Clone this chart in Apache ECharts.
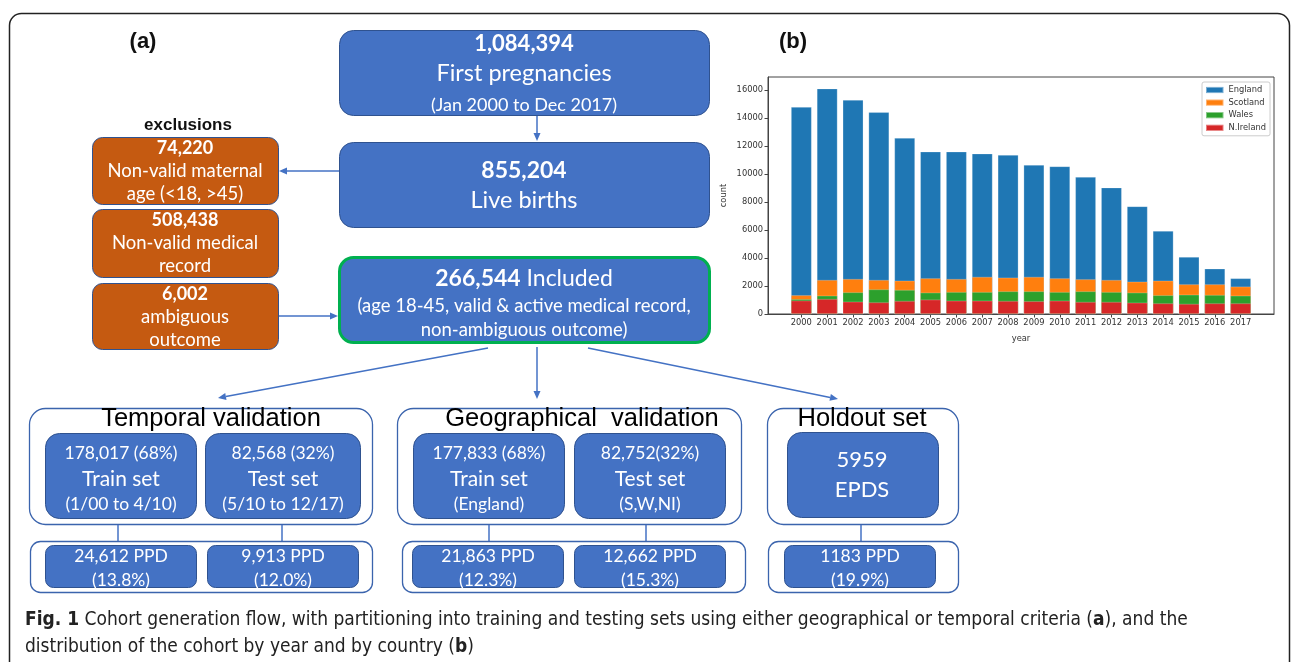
<!DOCTYPE html>
<html>
<head>
<meta charset="utf-8">
<script src="https://cdn.jsdelivr.net/npm/echarts@6/dist/echarts.min.js"></script>
<style>
  html, body { margin: 0; padding: 0; background: #fff; }
  #main { width: 1292px; height: 662px; }
</style>
</head>
<body>
<div id="main"></div>
<script>
// 柱状图数据 (b)
var years = [2000, 2001, 2002, 2003, 2004, 2005, 2006, 2007, 2008, 2009, 2010, 2011, 2012, 2013, 2014, 2015, 2016, 2017];
var england = [13460, 13690, 12810, 12000, 10210, 9060, 9110, 8820, 8770, 8010, 8010, 7320, 6610, 5390, 3560, 1960, 1120, 590];
var scotland = [280, 1120, 950, 670, 660, 1020, 930, 1080, 980, 1030, 980, 860, 860, 780, 1040, 740, 760, 650];
var wales = [100, 240, 670, 930, 790, 500, 620, 620, 690, 710, 620, 760, 710, 720, 580, 660, 600, 550];
var nIreland = [960, 1070, 880, 830, 930, 1030, 950, 950, 930, 910, 950, 860, 860, 810, 760, 720, 760, 760];
var countries = ['England', 'Scotland', 'Wales', 'N.Ireland'];
var yTicks = [0, 2000, 4000, 6000, 8000, 10000, 12000, 14000, 16000];

// 流程图文字 (a)
var topBox = ['1,084,394', 'First pregnancies', '(Jan 2000 to Dec 2017)'];
var liveBox = ['855,204', 'Live births'];
var includedBox = ['266,544', 'Included', '(age 18-45, valid & active medical record,', 'non-ambiguous outcome)'];
var exclusions = [
  ['74,220', 'Non-valid maternal', 'age (<18, >45)'],
  ['508,438', 'Non-valid medical', 'record'],
  ['6,002', 'ambiguous', 'outcome']
];
var groups = ['Temporal validation', 'Geographical  validation', 'Holdout set'];
var setBoxes = [
  ['178,017 (68%)', 'Train set', '(1/00 to 4/10)'],
  ['82,568 (32%)', 'Test set', '(5/10 to 12/17)'],
  ['177,833 (68%)', 'Train set', '(England)'],
  ['82,752(32%)', 'Test set', '(S,W,NI)']
];
var holdoutBox = ['5959', 'EPDS'];
var ppdBoxes = [
  ['24,612 PPD', '(13.8%)'],
  ['9,913 PPD', '(12.0%)'],
  ['21,863 PPD', '(12.3%)'],
  ['12,662 PPD', '(15.3%)'],
  ['1183 PPD', '(19.9%)']
];

var BLUE = '#4472C4';
var DARK = '#2F528F';
var ORANGE = '#C55A11';
var BOXFONT = 'Lato, "Open Sans", sans-serif';
var ARIAL = '"Liberation Sans", Arial, sans-serif';

var g = [];
function box(x, y, w, h, fill, stroke, lw, r) {
  g.push({ type: 'rect', shape: { x: x, y: y, width: w, height: h, r: r }, style: { fill: fill, stroke: stroke, lineWidth: lw } });
}
function txt(x, y, s, size, opt) {
  opt = opt || {};
  g.push({
    type: 'text', x: x, y: y,
    style: {
      text: s, fill: opt.color || '#fff', fontSize: size, fontFamily: opt.family || BOXFONT,
      fontWeight: opt.bold ? 'bold' : 'normal', align: opt.align || 'center', verticalAlign: 'middle',
      rich: opt.rich
    }
  });
}
function line(x1, y1, x2, y2, color, lw) {
  g.push({ type: 'line', shape: { x1: x1, y1: y1, x2: x2, y2: y2 }, style: { stroke: color || BLUE, lineWidth: lw || 1.5 } });
}
function arrow(x1, y1, x2, y2) {
  var dx = x2 - x1, dy = y2 - y1, len = Math.sqrt(dx * dx + dy * dy);
  var ux = dx / len, uy = dy / len;
  var bx = x2 - ux * 8, by = y2 - uy * 8;
  line(x1, y1, bx, by, BLUE, 1.5);
  g.push({ type: 'polygon', shape: { points: [[x2, y2], [bx - uy * 3.5, by + ux * 3.5], [bx + uy * 3.5, by - ux * 3.5]] }, style: { fill: BLUE } });
}

// 外框
g.push({ type: 'rect', shape: { x: 9.5, y: 13.5, width: 1280, height: 720, r: 12 }, style: { fill: 'none', stroke: '#222', lineWidth: 1.5 } });
txt(143, 42, '(a)', 22, { color: '#111', bold: true, family: ARIAL });
txt(793, 42, '(b)', 22, { color: '#111', bold: true, family: ARIAL });

// 主流程
box(339.5, 30.5, 370, 85, BLUE, DARK, 1, 14);
txt(524, 44, topBox[0], 22, { bold: true });
txt(524, 73, topBox[1], 23.5);
txt(524, 105, topBox[2], 18);
arrow(537, 116, 537, 141);

box(339.5, 142.5, 370, 85, BLUE, DARK, 1, 14);
txt(524, 171, liveBox[0], 23, { bold: true });
txt(524, 200, liveBox[1], 23.5);

box(339.5, 257.5, 370, 85, BLUE, '#00B050', 3, 14);
txt(524, 279, '{b|' + includedBox[0] + '} ' + includedBox[1], 23, { rich: { b: { fontWeight: 'bold', fontSize: 23, fontFamily: BOXFONT, fill: '#fff' } } });
txt(524, 306, includedBox[2], 18.5);
txt(524, 330, includedBox[3], 18.5);

// exclusions
txt(188, 125, 'exclusions', 17, { color: '#111', bold: true, family: ARIAL });
var exY = [[137, 67], [209, 68], [283, 66]];
exclusions.forEach(function (e, i) {
  var y = exY[i][0], h = exY[i][1];
  box(92.5, y + 0.5, 186, h, ORANGE, DARK, 1, 10);
  txt(185, y + 11, e[0], 18, { bold: true });
  txt(185, y + 34, e[1], 18.5);
  txt(185, y + 57.5, e[2], 18.5);
});
arrow(339, 171, 279, 171);
arrow(279, 316, 338, 316);

// 三个分支
arrow(488, 348, 218, 398);
arrow(537, 347, 537, 399);
arrow(588, 348, 838, 399);

// 分组容器
var groupBoxes = [[29.5, 343, 211], [397.5, 344, 582], [767.5, 191, 862]];
groupBoxes.forEach(function (b, i) {
  box(b[0], 408.5, b[1], 116, '#fff', '#3B64AD', 1.3, 16);
  txt(b[2], 419, groups[i], 25.5, { color: '#000', family: ARIAL });
});
var setX = [[45.5, 151], [205.5, 155], [413.5, 151], [574.5, 151]];
setBoxes.forEach(function (s, i) {
  box(setX[i][0], 433.5, setX[i][1], 85, BLUE, DARK, 1, 14);
  var cx = setX[i][0] + setX[i][1] / 2;
  txt(cx, 453, s[0], 17.5);
  txt(cx, 479, s[1], 21);
  txt(cx, 504, s[2], 17.5);
});
box(787.5, 432.5, 151, 85, BLUE, DARK, 1, 14);
txt(862, 460, holdoutBox[0], 22);
txt(862, 490, holdoutBox[1], 22);

// 连接线
[118, 282, 489, 646, 861].forEach(function (x) { line(x, 525, x, 541, BLUE, 1.5); });

// PPD 容器
[[30.5, 342], [402.5, 343], [768.5, 190]].forEach(function (b) {
  box(b[0], 541.5, b[1], 51, '#fff', '#3B64AD', 1.3, 10);
});
var ppdX = [45.5, 207.5, 412.5, 574.5, 784.5];
ppdBoxes.forEach(function (p, i) {
  box(ppdX[i], 545.5, 151, 42, BLUE, DARK, 1, 8);
  txt(ppdX[i] + 75.5, 556, p[0], 17.5);
  txt(ppdX[i] + 75.5, 580, p[1], 17.5);
});

// 图注
var capFont = '"Liberation Sans Narrow", "DejaVu Sans Condensed", "Roboto", sans-serif';
var capRich = { b: { fontWeight: 'bold', fontSize: 19, fontFamily: capFont, fill: '#222' } };
txt(25, 620, '{b|Fig. 1} Cohort generation flow, with partitioning into training and testing sets using either geographical or temporal criteria ({b|a}), and the', 19, { color: '#222', family: capFont, align: 'left', rich: capRich });
txt(25, 647, 'distribution of the cohort by year and by country ({b|b})', 19, { color: '#222', family: capFont, align: 'left', rich: capRich });

// 柱状图: 按累计高度叠放 (与原图一致)
var parts = [england, scotland, wales, nIreland];
var colors = ['#1f77b4', '#ff7f0e', '#2ca02c', '#d62728'];
var series = countries.map(function (name, k) {
  return {
    name: name,
    type: 'bar',
    barWidth: 20.6,
    barGap: '-100%',
    itemStyle: { color: colors[k], borderColor: 'rgba(255,255,255,0.4)', borderWidth: 0.6 },
    data: years.map(function (yr, i) {
      var sum = 0;
      for (var j = k; j < parts.length; j++) sum += parts[j][i];
      return [yr, sum];
    })
  };
});

var axisText = { color: '#333', fontSize: 8.3, fontFamily: '"DejaVu Sans", sans-serif' };
var plain = function (v) { return String(v); };
var myChart = echarts.init(document.getElementById('main'), null, { renderer: 'canvas' });
var option = {
  backgroundColor: '#fff',
  animation: false,
  grid: {
    left: 768, top: 77, right: 18, bottom: 348,
    show: true, borderColor: '#444', borderWidth: 1, backgroundColor: 'transparent'
  },
  legend: {
    data: countries,
    orient: 'vertical',
    left: 1202, top: 82,
    icon: 'rect',
    itemWidth: 17.5, itemHeight: 6.2, itemGap: 2.6,
    padding: [3, 4, 3, 3],
    borderColor: '#ccc', borderWidth: 1, borderRadius: 2,
    backgroundColor: '#fff',
    textStyle: { color: '#333', fontSize: 8.3, fontFamily: '"DejaVu Sans", sans-serif', lineHeight: 10 }
  },
  xAxis: {
    type: 'value',
    min: 1998.71, max: 2018.29,
    name: 'year', nameLocation: 'middle', nameGap: 21,
    nameTextStyle: axisText,
    axisLine: { show: true, lineStyle: { color: '#444', width: 1 } },
    axisTick: { show: true, length: 3.5, customValues: years, lineStyle: { color: '#444' } },
    axisLabel: Object.assign({ customValues: years, margin: 5, formatter: plain }, axisText),
    splitLine: { show: false }
  },
  yAxis: {
    type: 'value',
    min: 0, max: 16950,
    name: 'count', nameLocation: 'middle', nameGap: 40, nameRotate: 90,
    nameTextStyle: axisText,
    axisLine: { show: true, lineStyle: { color: '#444', width: 1 } },
    axisTick: { show: true, length: 3.5, customValues: yTicks, lineStyle: { color: '#444' } },
    axisLabel: Object.assign({ customValues: yTicks, margin: 5, formatter: plain }, axisText),
    splitLine: { show: false }
  },
  series: series,
  graphic: g
};
myChart.setOption(option);
window.addEventListener('resize', function () {
  myChart.resize();
});
</script>
</body>
</html>
